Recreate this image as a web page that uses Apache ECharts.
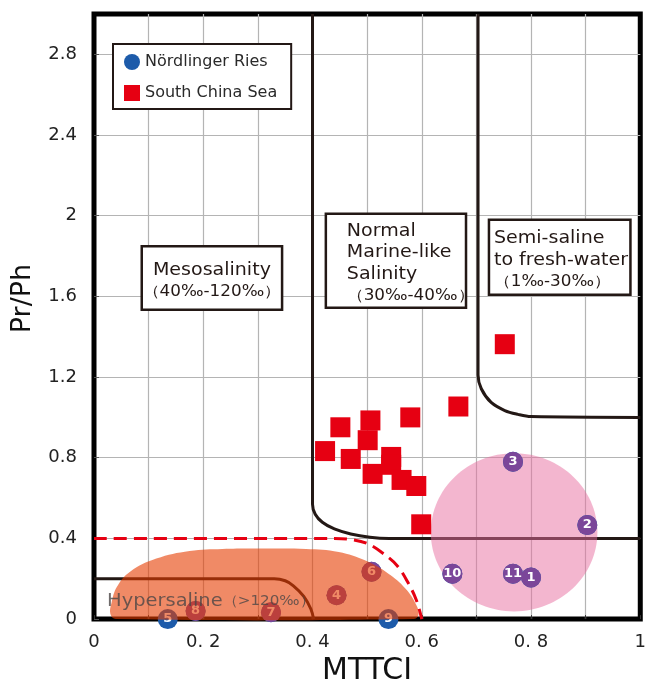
<!DOCTYPE html>
<html>
<head>
<meta charset="utf-8">
<script src="https://cdn.jsdelivr.net/npm/echarts@6/dist/echarts.min.js"></script>
<style>html,body{margin:0;padding:0;background:#fff;}#c{width:649px;height:691px;}</style>
</head>
<body>
<div id="c"></div>
<script>
// ---- data ----
const xTickLabels = ['0', '0. 2', '0. 4', '0. 6', '0. 8', '1'];
const yTickLabels = ['0', '0.4', '0.8', '1.2', '1.6', '2', '2.4', '2.8'];

// Nördlinger Ries samples (numbered)
const nrLabels = ['1', '2', '3', '4', '5', '6', '7', '8', '9', '10', '11'];
const nrX = [0.800, 0.903, 0.767, 0.444, 0.135, 0.508, 0.324, 0.186, 0.539, 0.656, 0.767];
const nrY = [0.206, 0.466, 0.780, 0.118, 0.000, 0.235, 0.034, 0.040, 0.000, 0.225, 0.225];

// South China Sea samples
const scsX = [0.752, 0.667, 0.579, 0.506, 0.451, 0.501, 0.423, 0.470, 0.544, 0.544, 0.510, 0.563, 0.590, 0.599];
const scsY = [1.363, 1.054, 1.000, 0.985, 0.951, 0.887, 0.833, 0.794, 0.804, 0.765, 0.720, 0.690, 0.660, 0.470];

// salinity boundaries (data coordinates)
const normalBoundary = [[0.4, 3], [0.4, 0.57], [0.405, 0.52], [0.418, 0.48], [0.44, 0.447], [0.47, 0.422], [0.505, 0.406], [0.54, 0.4], [1, 0.4]];
const semiBoundary = [[0.703, 3], [0.703, 1.21], [0.709, 1.142], [0.727, 1.074], [0.752, 1.034], [0.776, 1.015], [0.8, 1.004], [1, 1.0]];
const hyperBoundary = [[0, 0.2], [0.33, 0.2], [0.35, 0.19], [0.365, 0.165], [0.384, 0.113], [0.397, 0.05], [0.402, 0]];
const mesoDashed = [[0, 0.4], [0.44, 0.4], [0.47, 0.395], [0.5, 0.375], [0.527, 0.33], [0.555, 0.265], [0.575, 0.18], [0.59, 0.095], [0.6, 0]];

// shaded fields
const hyperField = [[0.04, 0.0], [0.03, 0.025], [0.032, 0.08], [0.042, 0.16], [0.066, 0.235], [0.114, 0.30], [0.175, 0.338], [0.235, 0.348], [0.31, 0.35], [0.388, 0.348], [0.448, 0.333], [0.497, 0.29], [0.539, 0.225], [0.57, 0.152], [0.59, 0.07], [0.594, 0.02], [0.585, 0.0]];
const riesField = [0.769, 0.43, 0.1525, 0.392]; // centre x, centre y, radius x, radius y

// ---- annotations ----
const notes = [
  { text: 'Mesosalinity\n{p|（40‰-120‰）}', x0: 0.0874, y0: 1.848, x1: 0.3443, y1: 1.534, align: 'center', inset: 0 },
  { text: 'Normal\nMarine-like\nSalinity\n{p|（30‰-40‰）}', x0: 0.4244, y0: 2.010, x1: 0.681, y1: 1.544, align: 'left', inset: 21 },
  { text: 'Semi-saline\nto fresh-water\n{p|（1‰-30‰）}', x0: 0.723, y0: 1.980, x1: 0.982, y1: 1.608, align: 'left', inset: 5 }
];

const FONT = 'DejaVu Sans';
const chart = echarts.init(document.getElementById('c'), null, { renderer: 'canvas' });

const blackLine = (data) => ({
  type: 'line', data: data, symbol: 'none', smooth: 0.35, z: 2, silent: true,
  lineStyle: { color: '#231815', width: 3 }, clip: false
});

const nrData = nrX.map((x, i) => [x, nrY[i], i]);
const purpleData = nrData.filter(d => d[2] !== 4 && d[2] !== 8).reverse();

const option = {
  animation: false,
  backgroundColor: '#fff',
  grid: { left: 94, right: 6, top: 14, bottom: 65, show: true, borderColor: '#000', borderWidth: 5 },
  legend: {
    data: ['Nördlinger Ries', 'South China Sea'],
    orient: 'vertical', left: 113, top: 44, z: 10,
    padding: [10, 14, 8, 11], itemGap: 15, itemWidth: 16, itemHeight: 16,
    backgroundColor: '#fff', borderColor: '#231815', borderWidth: 2,
    textStyle: { fontSize: 16, fontFamily: FONT, color: '#2a2a2a' }
  },
  xAxis: {
    type: 'value', min: 0, max: 1, interval: 0.2,
    axisLine: { show: false },
    axisTick: { show: true, inside: true, length: 4, lineStyle: { color: '#333' } },
    minorTick: { show: true, splitNumber: 2, length: 4, lineStyle: { color: '#333' } },
    splitLine: { show: true, showMinLine: false, showMaxLine: false, lineStyle: { color: '#b4b4b4', width: 1.2 } },
    minorSplitLine: { show: true, lineStyle: { color: '#b4b4b4', width: 1.2 } },
    axisLabel: { formatter: v => xTickLabels[Math.round(v / 0.2)], fontSize: 18, fontFamily: FONT, color: '#222', margin: 14 },
    name: 'MTTCI', nameLocation: 'middle', nameGap: 36,
    nameTextStyle: { fontSize: 30, fontFamily: FONT, color: '#111' }
  },
  yAxis: {
    type: 'value', min: 0, max: 3, interval: 0.4,
    axisLine: { show: false },
    axisTick: { show: true, inside: true, length: 5, lineStyle: { color: '#555' } },
    splitLine: { show: true, showMinLine: false, showMaxLine: false, lineStyle: { color: '#b4b4b4', width: 1.2 } },
    axisLabel: { formatter: v => { const i = Math.round(v / 0.4); return yTickLabels[i] || ''; }, showMaxLabel: false, fontSize: 18, fontFamily: FONT, color: '#222', margin: 17 },
    name: 'Pr/Ph', nameLocation: 'middle', nameGap: 58,
    nameTextStyle: { fontSize: 27, fontFamily: FONT, color: '#111', padding: [0, 0, 0, 36] }
  },
  series: [
    blackLine(normalBoundary),
    blackLine(semiBoundary),
    blackLine(hyperBoundary),
    {
      type: 'line', data: mesoDashed, symbol: 'none', smooth: 0.35, z: 8, silent: true, clip: false,
      lineStyle: { color: '#E60012', width: 3, type: [13, 7] }
    },
    {
      type: 'custom', z: 3, silent: true, clip: false,
      data: [riesField],
      renderItem: (params, api) => {
        const c = api.coord([api.value(0), api.value(1)]);
        const s = api.size([api.value(2), api.value(3)]);
        return { type: 'ellipse', shape: { cx: c[0], cy: c[1], rx: s[0], ry: s[1] }, style: { fill: 'rgba(231,110,160,0.5)' } };
      }
    },
    {
      name: 'Nördlinger Ries', type: 'scatter', z: 4, symbol: 'circle', symbolSize: 20, clip: false,
      itemStyle: { color: '#1D5BAA', opacity: 1 },
      data: nrData,
      label: { show: true, position: 'inside', formatter: p => nrLabels[p.value[2]], color: '#fff', fontSize: 13, fontWeight: 'bold', fontFamily: FONT }
    },
    {
      type: 'scatter', z: 5, symbol: 'circle', symbolSize: 20, clip: false,
      itemStyle: { color: '#7B4699', opacity: 1 },
      data: purpleData,
      label: { show: true, position: 'inside', formatter: p => nrLabels[p.value[2]], color: '#fff', fontSize: 13, fontWeight: 'bold', fontFamily: FONT }
    },
    {
      type: 'custom', z: 6, silent: true, clip: false,
      data: [[0, 0]],
      renderItem: (params, api) => ({
        type: 'polygon',
        shape: { points: hyperField.map(p => api.coord(p)), smooth: 0.4 },
        style: { fill: 'rgba(230,60,0,0.6)' }
      })
    },
    {
      name: 'South China Sea', type: 'scatter', z: 7, symbol: 'rect', symbolSize: 20,
      itemStyle: { color: '#E60012', opacity: 1 },
      data: scsX.map((x, i) => [x, scsY[i]])
    },
    {
      type: 'custom', z: 9, silent: true, clip: false,
      data: notes.map((n, i) => [n.x0, n.y0, n.x1, n.y1, i]),
      renderItem: (params, api) => {
        const n = notes[api.value(4)];
        const p0 = api.coord([api.value(0), api.value(1)]);
        const p1 = api.coord([api.value(2), api.value(3)]);
        const tx = n.align === 'center' ? (p0[0] + p1[0]) / 2 : p0[0] + n.inset;
        return {
          type: 'group',
          children: [
            { type: 'rect', shape: { x: p0[0], y: p0[1], width: p1[0] - p0[0], height: p1[1] - p0[1] }, style: { fill: '#fff', stroke: '#231815', lineWidth: 2.5 } },
            {
              type: 'text', x: tx, y: (p0[1] + p1[1]) / 2 + 3, scaleX: 1.12,
              style: {
                text: n.text, fontSize: 17, fontFamily: FONT, fill: '#231815', align: n.align, verticalAlign: 'middle', lineHeight: 21.5,
                rich: { p: { fontSize: 15, fontFamily: FONT, fill: '#231815', lineHeight: 21.5 } }
              }
            }
          ]
        };
      }
    },
    {
      type: 'custom', z: 9, silent: true, clip: false,
      data: [[0.024, 0.088]],
      renderItem: (params, api) => {
        const p = api.coord([api.value(0), api.value(1)]);
        return {
          type: 'text', x: p[0], y: p[1], scaleX: 1.08,
          style: {
            text: 'Hypersaline{p|（>120‰）}', fontSize: 18, fontFamily: FONT, fill: 'rgba(75,70,70,0.8)', align: 'left', verticalAlign: 'middle',
            rich: { p: { fontSize: 14, fontFamily: FONT, fill: 'rgba(75,70,70,0.8)' } }
          }
        };
      }
    }
  ]
};
chart.setOption(option);
</script>
</body>
</html>
